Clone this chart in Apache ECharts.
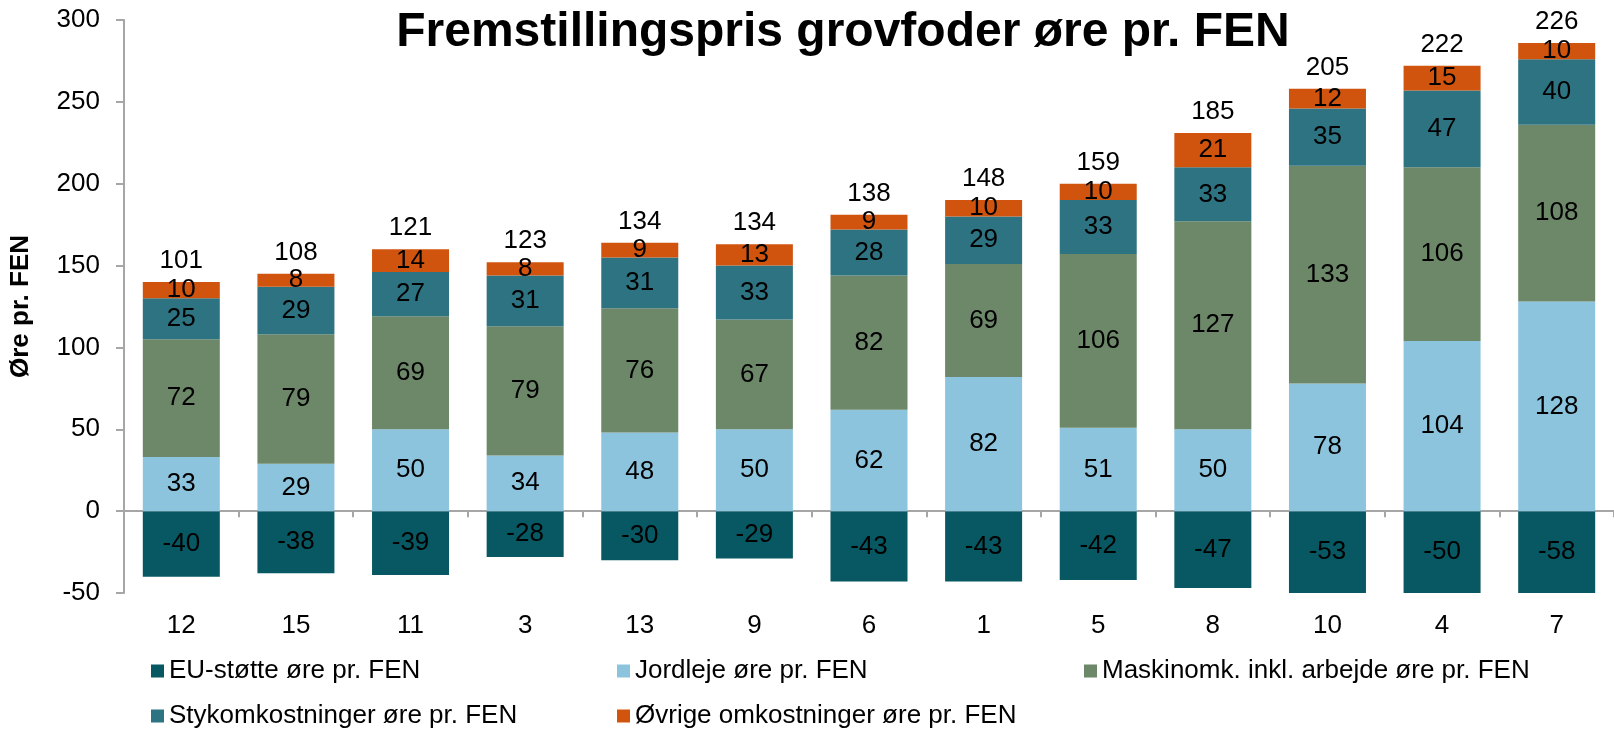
<!DOCTYPE html>
<html>
<head>
<meta charset="utf-8">
<script src="https://cdn.jsdelivr.net/npm/echarts@6/dist/echarts.min.js"></script>
<style>
html,body{margin:0;padding:0;background:#fff;}
#chart{width:1614px;height:730px;}
</style>
</head>
<body>
<div id="chart"></div>
<script>
var farms = ['12','15','11','3','13','9','6','1','5','8','10','4','7'];
var euStotte = [-40,-38,-39,-28,-30,-29,-43,-43,-42,-47,-53,-50,-58];
var jordleje = [33,29,50,34,48,50,62,82,51,50,78,104,128];
var maskinomk = [72,79,69,79,76,67,82,69,106,127,133,106,108];
var stykomk = [25,29,27,31,31,33,28,29,33,33,35,47,40];
var ovrige = [10,8,14,8,9,13,9,10,10,21,12,15,10];
var totals = [101,108,121,123,134,134,138,148,159,185,205,222,226];
var yTicks = [-50,0,50,100,150,200,250,300];

var names = ['EU-støtte øre pr. FEN','Jordleje øre pr. FEN','Maskinomk. inkl. arbejde øre pr. FEN','Stykomkostninger øre pr. FEN','Øvrige omkostninger øre pr. FEN'];
var colors = ['#075862','#8cc4dd','#6d8769','#2e7382','#d0540e'];
var values = [euStotte, jordleje, maskinomk, stykomk, ovrige];

var font = 'Liberation Sans, Arial, sans-serif';
var fs = 26;

var chart = echarts.init(document.getElementById('chart'));

var series = [];
for (var i = 0; i < names.length; i++) {
  series.push({
    name: names[i],
    type: 'bar',
    stack: 'total',
    barWidth: 77,
    xAxisIndex: 0,
    itemStyle: { color: colors[i] },
    label: {
      show: true,
      position: 'inside',
      color: '#000',
      fontFamily: font,
      fontSize: fs
    },
    data: values[i]
  });
}
// empty bar on top of the stack, only carries the total label
series.push({
  name: 'total',
  type: 'bar',
  stack: 'total',
  barWidth: 77,
  xAxisIndex: 0,
  itemStyle: { color: 'rgba(0,0,0,0)' },
  label: {
    show: true,
    position: 'top',
    distance: 8,
    color: '#000',
    fontFamily: font,
    fontSize: fs,
    formatter: function (p) { return totals[p.dataIndex]; }
  },
  data: farms.map(function () { return 0; })
});

var legendPos = [
  [151, 658], [617, 658], [1084, 658],
  [151, 703], [617, 703]
];
var legends = names.map(function (n, i) {
  return {
    data: [n],
    left: legendPos[i][0],
    top: legendPos[i][1],
    padding: 0,
    itemWidth: 13,
    itemHeight: 13,
    icon: 'rect',
    textStyle: { fontFamily: font, fontSize: fs, color: '#000' }
  };
});

var option = {
  animation: false,
  title: {
    text: 'Fremstillingspris grovfoder øre pr. FEN',
    left: 843,
    top: 9,
    padding: 0,
    textAlign: 'center',
    textStyle: { fontFamily: font, fontSize: 48, fontWeight: 'bold', color: '#000' }
  },
  legend: legends,
  grid: { left: 115, top: 20, width: 1510, height: 573 },
  xAxis: [
    {
      type: 'category',
      data: farms,
      position: 'bottom',
      axisLine: { show: false, onZero: false },
      axisTick: { show: false },
      axisLabel: { margin: 20, color: '#000', fontFamily: font, fontSize: fs }
    },
    {
      type: 'category',
      data: farms,
      position: 'top',
      axisLine: { show: true, onZero: true, lineStyle: { color: '#a6a6a6', width: 2 } },
      axisTick: { show: true, inside: true, length: 6, lineStyle: { color: '#a6a6a6', width: 2 } },
      axisLabel: { show: false }
    }
  ],
  yAxis: {
    type: 'value',
    min: yTicks[0],
    max: yTicks[yTicks.length - 1],
    interval: 50,
    name: 'Øre pr. FEN',
    nameLocation: 'middle',
    nameGap: 90,
    nameTextStyle: { fontFamily: font, fontSize: fs, fontWeight: 'bold', color: '#000' },
    axisLine: { show: true, lineStyle: { color: '#a6a6a6', width: 2 } },
    axisTick: { show: true, length: 8, lineStyle: { color: '#a6a6a6', width: 2 } },
    splitLine: { show: false },
    axisLabel: { margin: 24, color: '#000', fontFamily: font, fontSize: fs }
  },
  series: series
};

chart.setOption(option);
</script>
</body>
</html>
